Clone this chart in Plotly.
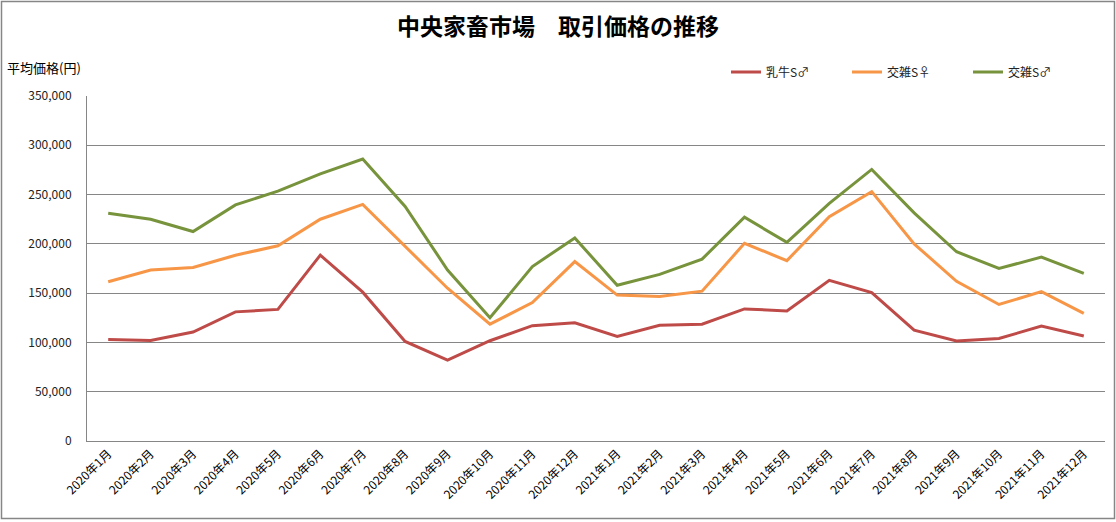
import plotly.graph_objects as go

months = [f"2020年{m}月" for m in range(1, 13)] + [f"2021年{m}月" for m in range(1, 13)]

dairy_male = [103000, 102000, 110500, 131000, 133500, 188500, 151000, 101000, 82000, 101700, 117000, 120000,
              106000, 117500, 118500, 134000, 132000, 163000, 150500, 112500, 101500, 104000, 116500, 106500]
cross_female = [161500, 173500, 176000, 188500, 198000, 225000, 240000, 198000, 155000, 118500, 140500, 182000,
                148000, 146500, 152000, 200500, 183000, 227500, 253000, 200000, 162000, 138500, 151500, 129500]
cross_male = [231000, 225000, 212500, 239500, 253500, 271000, 286000, 238000, 173500, 125000, 177000, 206000,
              158000, 169000, 184500, 227000, 201500, 241000, 275500, 231500, 192000, 175000, 186500, 170000]

series_names = ["乳牛S♂", "交雑S♀", "交雑S♂"]
series_values = [dairy_male, cross_female, cross_male]
series_colors = ["#BE4B48", "#F79646", "#77933C"]

y_ticks = list(range(0, 350001, 50000))

FONT = "Noto Sans CJK JP, sans-serif"

fig = go.Figure()
for name, vals, col in zip(series_names, series_values, series_colors):
    fig.add_trace(go.Scatter(x=months, y=vals, name=name, mode="lines",
                             line=dict(color=col, width=3)))

W, H = 1116, 522
L, R, T, B = 87, 11, 96, 81
pw, ph = W - L - R, H - T - B

def px_x(x):
    return (x - L) / pw

def px_y(y):
    return (H - B - y) / ph

fig.update_layout(
    width=W, height=H,
    margin=dict(l=L, r=R, t=T, b=B, autoexpand=False),
    paper_bgcolor="white", plot_bgcolor="white",
    font=dict(family=FONT, color="#222222"),
    title=dict(text="<b>中央家畜市場　取引価格の推移</b>", x=0.5, xref="container", xanchor="center",
               y=1 - 27 / H, yref="container", yanchor="middle",
               font=dict(size=23, color="#000000", family=FONT)),
    showlegend=True,
    legend=dict(orientation="h", x=px_x(726), y=px_y(72), xanchor="left", yanchor="middle",
                font=dict(size=12, color="#222222", family=FONT),
                entrywidth=76, entrywidthmode="pixels", itemwidth=30,
                bgcolor="rgba(0,0,0,0)"),
    xaxis=dict(type="category", tickangle=-45, tickfont=dict(size=12, color="#000000"),
               showgrid=False, showline=True, linecolor="#868686", linewidth=1,
               ticks="", range=[-0.5, 23.5], fixedrange=True, automargin=False),
    yaxis=dict(range=[0, 350000], tickvals=y_ticks, tickformat=",", tickfont=dict(size=12, color="#222222"),
               showgrid=True, gridcolor="#868686", gridwidth=1,
               showline=True, linecolor="#868686", linewidth=1,
               zeroline=False, ticks="", ticklabelstandoff=12, fixedrange=True, automargin=False),
    annotations=[dict(text="平均価格(円)", x=px_x(5), y=px_y(68), xref="paper", yref="paper",
                      xanchor="left", yanchor="middle", showarrow=False,
                      font=dict(size=13, color="#000000", family=FONT))],
    shapes=[dict(type="rect", xref="paper", yref="paper",
                 x0=px_x(1.5), x1=px_x(1114.5), y0=px_y(518.5), y1=px_y(1.5),
                 line=dict(color="#868686", width=1.5), layer="below")],
)

fig.write_html("out.html", config={"displayModeBar": False},
               post_script="document.body.style.margin='0';document.body.style.overflow='hidden';")
